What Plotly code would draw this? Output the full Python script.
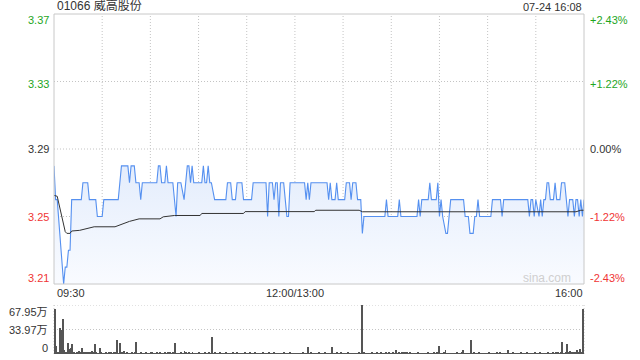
import plotly.graph_objects as go

# ---------------- data ----------------
title_text = "01066 威高股份"
time_text = "07-24 16:08"
prev_close = 3.29
price_ticks = [3.37, 3.33, 3.29, 3.25, 3.21]
pct_labels = ["+2.43%", "+1.22%", "0.00%", "-1.22%", "-2.43%"]
x_tick_vals = [0, 150, 330]
x_tick_text = ["09:30", "12:00/13:00", "16:00"]
x_grid_vals = [30, 60, 90, 120, 150, 180, 210, 240, 270, 300]
vol_ticks = [67.95, 33.97, 0]
vol_tick_text = ["67.95万", "33.97万", "0"]

# minute vertices of the price polyline (minutes since 09:30, lunch removed)
price_min = [0, 1, 2, 6, 7, 8, 9, 10, 11, 17, 18, 21, 22, 26, 27, 30, 31, 40, 42, 46,
             47, 48, 50, 51, 53, 54, 55, 64, 65, 66, 67, 69, 70, 71, 74, 76, 77, 79, 81, 82,
             83, 84, 85, 86, 87, 92, 93, 94, 95, 96, 97, 98, 100, 107, 108, 110, 111, 113, 114, 117,
             118, 123, 124, 132, 133, 134, 136, 137, 138, 139, 140, 141, 143, 144, 145, 146, 147, 156, 157, 158,
             159, 160, 170, 171, 172, 173, 175, 176, 177, 181, 182, 184, 185, 186, 188, 189, 191, 192, 193, 206,
             207, 208, 214, 215, 216, 226, 227, 228, 229, 233, 234, 235, 238, 239, 240, 241, 242, 244, 245, 247,
             255, 256, 258, 259, 261, 262, 263, 264, 265, 272, 273, 278, 279, 280, 295, 296, 297, 298, 299, 300,
             302, 303, 304, 305, 306, 307, 308, 309, 311, 312, 313, 315, 316, 318, 319, 320, 321, 323, 324, 325,
             326, 327, 328, 329, 330]
price_val = [3.28, 3.26, 3.26, 3.21, 3.22, 3.22, 3.23, 3.23, 3.26, 3.26, 3.27, 3.27, 3.26, 3.26, 3.25, 3.25, 3.26, 3.26, 3.28, 3.28,
             3.27, 3.28, 3.28, 3.27, 3.27, 3.26, 3.27, 3.27, 3.28, 3.28, 3.27, 3.27, 3.28, 3.27, 3.27, 3.25, 3.27, 3.27, 3.26, 3.27,
             3.28, 3.28, 3.27, 3.28, 3.27, 3.27, 3.28, 3.27, 3.27, 3.28, 3.27, 3.27, 3.26, 3.26, 3.27, 3.27, 3.26, 3.26, 3.27, 3.27,
             3.26, 3.26, 3.27, 3.27, 3.25, 3.27, 3.27, 3.26, 3.27, 3.27, 3.25, 3.27, 3.27, 3.26, 3.25, 3.25, 3.27, 3.27, 3.26, 3.27,
             3.26, 3.27, 3.27, 3.26, 3.27, 3.26, 3.26, 3.27, 3.26, 3.26, 3.27, 3.27, 3.26, 3.27, 3.27, 3.26, 3.26, 3.24, 3.25, 3.25,
             3.26, 3.25, 3.25, 3.26, 3.25, 3.25, 3.26, 3.25, 3.26, 3.26, 3.27, 3.26, 3.26, 3.27, 3.25, 3.26, 3.25, 3.24, 3.24, 3.26,
             3.26, 3.25, 3.25, 3.24, 3.24, 3.25, 3.25, 3.26, 3.25, 3.25, 3.26, 3.26, 3.25, 3.26, 3.26, 3.25, 3.26, 3.26, 3.25, 3.26,
             3.25, 3.26, 3.25, 3.26, 3.26, 3.27, 3.27, 3.26, 3.26, 3.27, 3.26, 3.26, 3.27, 3.27, 3.26, 3.25, 3.26, 3.26, 3.25, 3.26,
             3.26, 3.25, 3.26, 3.25, 3.26]

avg_min = [0, 2, 7, 8, 10, 11, 16, 19, 25, 38, 41, 47, 53, 66, 68, 75, 91, 92, 118, 119,
           162, 163, 190, 192, 325, 328, 330]
avg_val = [3.2625, 3.262, 3.241, 3.240, 3.240, 3.2414, 3.2418, 3.2425, 3.2439, 3.2439, 3.2449, 3.2471, 3.2486, 3.2486,
           3.2498, 3.2506, 3.2506, 3.2518, 3.2518, 3.2529, 3.2529, 3.2537, 3.2537, 3.2528, 3.2528, 3.2537, 3.2537]

# volume per minute, in 万 shares (minute 0 .. 330)
volume = [62, 11, 2, 35.6, 33, 48, 5.5, 1.5, 15, 6.5,
          8, 13.4, 3, 1.2, 2, 4.6, 1.8, 8, 2.5, 1.5,
          3, 2.2, 1.4, 3.5, 2.6, 14, 2.8, 1.2, 9, 1.5,
          1.2, 0.8, 1.6, 1.0, 1.4, 2.0, 0.9, 1.5, 2.2, 19.4,
          1.3, 15.7, 2.0, 4.0, 1.1, 1.5, 0.8, 1.2, 1.9, 1.0,
          1.4, 16.6, 1.2, 0.9, 1.6, 1.1, 0.7, 2.0, 1.3, 1.0,
          1.5, 2.2, 0.9, 1.3, 1.8, 1.0, 2.4, 1.1, 0.8, 1.6,
          1.2, 2.0, 1.4, 0.9, 1.7, 15.7, 1.0, 1.3, 0.8, 1.5,
          1.1, 4.0, 1.8, 0.9, 1.4, 1.2, 2.1, 1.0, 0.7, 1.3,
          1.6, 1.0, 1.2, 0.8, 1.5, 1.1, 1.9, 0.9, 24, 1.2,
          1.4, 0.8, 1.0, 1.6, 1.2, 0.9, 1.3, 1.8, 1.0, 0.7,
          1.2, 1.5, 0.9, 1.1, 1.7, 1.0, 0.8, 1.3, 1.1, 1.6,
          0.9, 1.2, 1.4, 1.0, 0.8, 1.5, 1.1, 0.9, 1.3, 1.0,
          1.6, 0.8, 1.2, 1.0, 1.4, 0.9, 1.1, 1.7, 1.0, 0.8,
          1.3, 1.1, 0.9, 1.5, 1.2, 1.0, 0.8, 1.4, 1.1, 0.9,
          1.2, 1.0, 1.3, 0.9, 1.1, 1.5, 0.8, 1.2, 10, 1.0,
          1.4, 1.1, 0.9, 1.3, 1.0, 1.6, 1.2, 0.8, 1.1, 1.5,
          1.0, 1.3, 0.9, 10, 1.2, 1.0, 1.5, 0.8, 1.1, 1.4,
          1.0, 1.2, 0.9, 1.6, 1.1, 1.0, 1.3, 0.8, 1.2, 1.0,
          1.4, 1.1, 67.95, 1.5, 1.0, 1.2, 0.9, 1.3, 1.6, 1.1,
          1.0, 1.4, 1.2, 0.9, 2.0, 1.3, 1.1, 1.6, 1.0, 2.4,
          1.2, 1.8, 1.0, 5.5, 1.3, 2.2, 1.1, 1.6, 2.5, 1.4,
          1.9, 1.2, 1.5, 1.0, 1.3, 1.1, 0.9, 1.4, 1.2, 1.0,
          1.3, 0.9, 1.1, 1.5, 1.0, 1.2, 0.8, 1.4, 1.1, 1.6,
          11, 1.2, 1.0, 1.4, 5.5, 1.1, 0.9, 1.3, 1.0, 1.2,
          0.8, 1.4, 1.1, 1.0, 1.6, 5.5, 1.2, 0.9, 1.3, 1.1,
          19.4, 1.0, 1.4, 1.2, 0.9, 1.5, 1.1, 1.3, 1.0, 0.8,
          1.2, 1.5, 1.0, 1.3, 0.9, 1.1, 1.6, 1.0, 1.4, 1.2,
          0.9, 1.3, 1.1, 5.5, 1.2, 1.0, 1.5, 0.8, 1.3, 1.1,
          1.0, 1.4, 1.2, 0.9, 1.1, 1.6, 1.0, 1.3, 0.8, 1.2,
          1.4, 1.0, 1.2, 1.5, 0.9, 1.3, 1.1, 1.0, 1.6, 1.2,
          1.0, 1.4, 1.2, 2.0, 1.5, 1.1, 2.4, 16.6, 1.3, 2.0,
          14, 3, 4.6, 1.5, 2.5, 1.8, 5.5, 2.2, 7.4, 1.6,
          62]
vol_min = list(range(len(volume)))

# ---------------- style ----------------
FONT = "Arial, 'Liberation Sans', 'Noto Sans CJK SC', sans-serif"
GREEN = "#1ea61e"
RED = "#f03535"
DARK = "#333333"
GRID = "#c4c4c4"
BORDER = "#c8c8c8"
DOT = "1px,2px"

fig = go.Figure()

fig.add_trace(go.Scatter(
    x=price_min, y=price_val, mode="lines", xaxis="x", yaxis="y",
    line=dict(color="#5590f0", width=1.1),
    fill="tozeroy",
    fillgradient=dict(type="vertical",
                      colorscale=[[0, "rgb(249,251,255)"], [1, "rgb(228,237,252)"]],
                      start=3.21, stop=3.28),
    hoverinfo="skip", showlegend=False))

fig.add_trace(go.Scatter(
    x=avg_min, y=avg_val, mode="lines", xaxis="x", yaxis="y",
    line=dict(color="#333333", width=1),
    hoverinfo="skip", showlegend=False))

fig.add_trace(go.Bar(
    x=vol_min, y=volume, xaxis="x2", yaxis="y2",
    width=0.62, marker=dict(color="#555555", line=dict(width=0)),
    hoverinfo="skip", showlegend=False))

main_bottom = (354 - 284) / 340
vol_top = (354 - 305) / 340

fig.update_layout(
    width=640, height=360,
    margin=dict(l=54, r=56, t=14, b=6),
    paper_bgcolor="white", plot_bgcolor="rgba(0,0,0,0)",
    font=dict(family=FONT, size=11, color=DARK),
    bargap=0,
    xaxis=dict(domain=[0, 1], range=[0, 330], showgrid=False, zeroline=False,
               showticklabels=False, ticks="", fixedrange=True),
    yaxis=dict(domain=[main_bottom, 1], range=[3.21, 3.37], showgrid=False, zeroline=False,
               showticklabels=False, ticks=""),
    xaxis2=dict(domain=[0, 1], range=[-0.5, 330.5], anchor="y2", showgrid=False,
                zeroline=False, showticklabels=False, ticks=""),
    yaxis2=dict(domain=[0, vol_top], range=[0, 67.95], anchor="x2", showgrid=False,
                zeroline=False, showticklabels=False, ticks=""),
)

shapes = []
# main panel gridlines (dotted)
for v in price_ticks[1:-1]:
    shapes.append(dict(type="line", xref="x domain", yref="y", x0=0, x1=1, y0=v, y1=v,
                       line=dict(color=GRID, width=1, dash=DOT), layer="below"))
for v in x_grid_vals:
    shapes.append(dict(type="line", xref="x", yref="y domain", x0=v, x1=v, y0=0, y1=1,
                       line=dict(color=GRID, width=1, dash=DOT), layer="below"))
# main panel border
shapes.append(dict(type="rect", xref="x domain", yref="y domain", x0=0, x1=1, y0=0, y1=1,
                   line=dict(color=BORDER, width=1)))
# volume panel grid
for v in vol_ticks[:-1]:
    shapes.append(dict(type="line", xref="x2 domain", yref="y2", x0=0, x1=1, y0=v, y1=v,
                       line=dict(color=GRID, width=1, dash=DOT), layer="below"))
for xv in [0, 1]:
    shapes.append(dict(type="line", xref="x2 domain", yref="y2 domain", x0=xv, x1=xv, y0=0, y1=1,
                       line=dict(color=GRID, width=1, dash=DOT), layer="below"))
fig.update_layout(shapes=shapes)

ann = []
ann.append(dict(text=title_text, xref="paper", yref="paper", x=0, y=1, xanchor="left",
                yanchor="bottom", xshift=1, yshift=-1, showarrow=False,
                font=dict(size=12, color=DARK)))
ann.append(dict(text=time_text, xref="paper", yref="paper", x=1, y=1, xanchor="right",
                yanchor="bottom", yshift=-1, showarrow=False, font=dict(size=11, color=DARK)))

label_shift = [-6, -2, 0, 0, 6]
for v, pct, sh in zip(price_ticks, pct_labels, label_shift):
    col = GREEN if v > prev_close else (RED if v < prev_close else DARK)
    ann.append(dict(text=f"{v:.2f}", xref="paper", yref="y", x=0, y=v, xanchor="right",
                    yanchor="middle", xshift=-3, yshift=sh, showarrow=False,
                    font=dict(size=11, color=col)))
    ann.append(dict(text=pct, xref="paper", yref="y", x=1, y=v, xanchor="left",
                    yanchor="middle", xshift=4, yshift=sh, showarrow=False,
                    font=dict(size=11, color=col)))

anchors = ["left", "center", "right"]
for v, t, a in zip(x_tick_vals, x_tick_text, anchors):
    ann.append(dict(text=t, xref="x", yref="y", x=v, y=3.21, xanchor=a, yanchor="middle",
                    xshift=1 if a == "left" else (1 if a == "right" else 0), yshift=-9,
                    showarrow=False, font=dict(size=11, color=DARK)))

vol_shift = [-7, 0, 6]
for v, t, sh in zip(vol_ticks, vol_tick_text, vol_shift):
    ann.append(dict(text=t, xref="paper", yref="y2", x=0, y=v, xanchor="right",
                    yanchor="middle", xshift=-4, yshift=sh, showarrow=False,
                    font=dict(size=11, color=DARK)))

ann.append(dict(text="sina.com", xref="paper", yref="y", x=(573 - 54) / 530, y=3.21,
                xanchor="right", yanchor="middle", yshift=6, showarrow=False,
                font=dict(size=12, color="#cfcfcf")))

fig.update_layout(annotations=ann)

fig.write_html("out.html")
